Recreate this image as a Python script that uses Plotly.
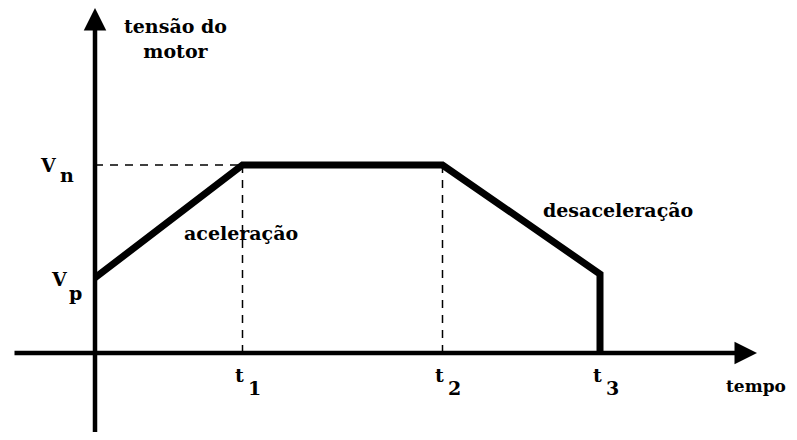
import plotly.graph_objects as go

# motor voltage profile (time in arbitrary units, voltage in arbitrary units)
t_points = [0, 2.95, 6.95, 10.1, 10.1]
v_points = [2.0, 5.0, 5.0, 2.1, 0.0]

t_marks = [2.95, 6.95, 10.1]
t_subs = ["1", "2", "3"]
v_nominal = 5.0
v_start = 2.0

# the page body keeps an 8px margin on every side, so the figure is drawn
# smaller and every reference pixel position is shifted by that amount
PAGE_MARGIN = 8
W, H = 797 - 2 * PAGE_MARGIN, 440 - 2 * PAGE_MARGIN
PX_X = 50.0
PX_Y = 37.6
ORIGIN_X = 95 - PAGE_MARGIN
ORIGIN_Y = 353 - PAGE_MARGIN


def dx(px):
    return (px - PAGE_MARGIN - ORIGIN_X) / PX_X


def dy(py):
    return (ORIGIN_Y - (py - PAGE_MARGIN)) / PX_Y


FONT = "DejaVu Serif"
FS = 19

fig = go.Figure()

# dashed guides
fig.add_trace(go.Scatter(
    x=[0, t_marks[0]], y=[v_nominal, v_nominal], mode="lines",
    line=dict(color="black", width=1.5, dash="8px,7px"), hoverinfo="skip",
))
for tm in t_marks[:2]:
    fig.add_trace(go.Scatter(
        x=[tm, tm], y=[0, v_nominal], mode="lines",
        line=dict(color="black", width=1.5, dash="8px,7px"), hoverinfo="skip",
    ))

# voltage curve
fig.add_trace(go.Scatter(
    x=t_points, y=v_points, mode="lines",
    line=dict(color="black", width=7), hoverinfo="skip",
))

x_range = [-ORIGIN_X / PX_X, (W - ORIGIN_X) / PX_X]
y_range = [(ORIGIN_Y - H) / PX_Y, ORIGIN_Y / PX_Y]

annotations = []

# axes with arrow heads
annotations.append(dict(
    x=dx(757), y=0, ax=dx(13), ay=0,
    xref="x", yref="y", axref="x", ayref="y", text="", showarrow=True,
    arrowhead=2, arrowsize=1, arrowwidth=4.5, arrowcolor="black", standoff=0,
))
annotations.append(dict(
    x=0, y=dy(8), ax=0, ay=y_range[0] - 0.2,
    xref="x", yref="y", axref="x", ayref="y", text="", showarrow=True,
    arrowhead=2, arrowsize=1, arrowwidth=4.5, arrowcolor="black", standoff=0,
))


def label(text, x, y, xs=0, ys=0, anchor="center", size=FS):
    annotations.append(dict(
        x=x, y=y, xref="x", yref="y", text=text, showarrow=False,
        xshift=xs, yshift=ys, xanchor=anchor, yanchor="middle",
        font=dict(family=FONT, size=size, color="black", weight="bold"),
    ))


# time labels
for tm, sub in zip(t_marks, t_subs):
    label("t", tm, 0, xs=-3, ys=-22)
    label(sub, tm, 0, xs=12, ys=-35)

# voltage labels
label("V", 0, v_nominal, xs=-47, ys=0)
label("n", 0, v_nominal, xs=-28, ys=-10)
label("V", 0, v_start, xs=-36, ys=-1)
label("p", 0, v_start, xs=-20, ys=-15)

# axis titles and phase names
label("tensão do<br>motor", dx(175), dy(38))
label("tempo", dx(788), dy(386), anchor="right", size=17)
label("aceleração", dx(241), dy(233))
label("desaceleração", dx(618), dy(210))

fig.update_layout(
    width=W, height=H,
    margin=dict(l=0, r=0, t=0, b=0),
    paper_bgcolor="white", plot_bgcolor="white",
    showlegend=False,
    xaxis=dict(range=x_range, visible=False, fixedrange=True),
    yaxis=dict(range=y_range, visible=False, fixedrange=True),
    annotations=annotations,
)

fig.write_html("out.html")
